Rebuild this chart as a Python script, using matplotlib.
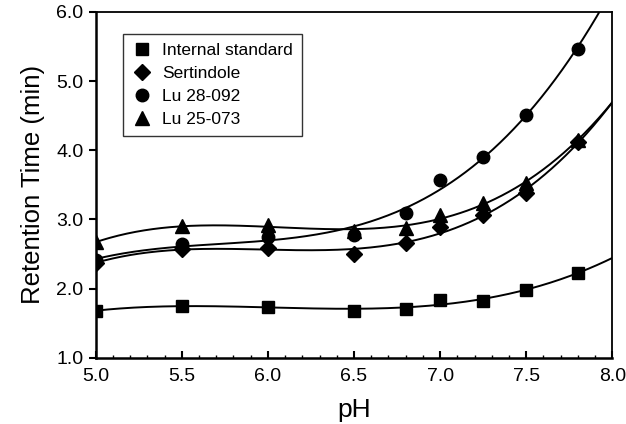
import numpy as np
import matplotlib.pyplot as plt
from matplotlib.ticker import MultipleLocator

plt.rcParams['font.family'] = ['Liberation Sans', 'DejaVu Sans']

ph = [5.0, 5.5, 6.0, 6.5, 6.8, 7.0, 7.25, 7.5, 7.8]
internal_std = [1.68, 1.75, 1.74, 1.68, 1.71, 1.84, 1.82, 1.98, 2.23]
sertindole = [2.37, 2.57, 2.59, 2.50, 2.66, 2.89, 3.06, 3.38, 4.12]
lu28 = [2.41, 2.64, 2.75, 2.78, 3.09, 3.57, 3.90, 4.51, 5.47]
lu25 = [2.67, 2.90, 2.92, 2.83, 2.87, 3.06, 3.24, 3.53, 4.15]

series = [
    ("Internal standard", internal_std, "s", 8.5),
    ("Sertindole", sertindole, "D", 8),
    ("Lu 28-092", lu28, "o", 9),
    ("Lu 25-073", lu25, "^", 9.5),
]

fig = plt.figure(figsize=(6.26, 4.24), dpi=100)
ax = fig.add_axes([0.153, 0.156, 0.825, 0.816])

xs = np.linspace(5.0, 8.0, 300)
for name, vals, mk, ms in series:
    coef = np.polyfit(ph, vals, 3)
    ax.plot(xs, np.polyval(coef, xs), color="black", lw=1.4)
    ax.plot(ph, vals, linestyle="none", marker=mk, ms=ms, color="black",
            label=name)

ax.set_xlim(5.0, 8.0)
ax.set_ylim(1.0, 6.0)
ax.xaxis.set_major_locator(MultipleLocator(0.5))
ax.xaxis.set_minor_locator(MultipleLocator(0.1))
ax.yaxis.set_major_locator(MultipleLocator(1.0))
ax.xaxis.set_major_formatter(plt.FormatStrFormatter("%.1f"))
ax.yaxis.set_major_formatter(plt.FormatStrFormatter("%.1f"))
ax.tick_params(axis="x", which="major", direction="in", length=5, width=1.5,
               labelsize=14, pad=7)
ax.tick_params(axis="x", which="minor", direction="in", length=2, width=1)
ax.tick_params(axis="y", which="major", direction="out", length=5, width=1.5,
               labelsize=14, pad=4)
for side in ["left", "bottom"]:
    ax.spines[side].set_linewidth(1.8)
for side in ["top", "right"]:
    ax.spines[side].set_linewidth(1.3)

ax.set_xlabel("pH", fontsize=19, labelpad=10)
ax.set_ylabel("Retention Time (min)", fontsize=18.5, labelpad=8)

leg = ax.legend(loc="upper left", bbox_to_anchor=(0.035, 0.96), fontsize=12.5,
                frameon=True, fancybox=False, edgecolor="black",
                handletextpad=0.6, labelspacing=0.45, borderpad=0.5,
                handlelength=1.2)
leg.get_frame().set_linewidth(1.0)

fig.savefig("out.png", dpi=100)
